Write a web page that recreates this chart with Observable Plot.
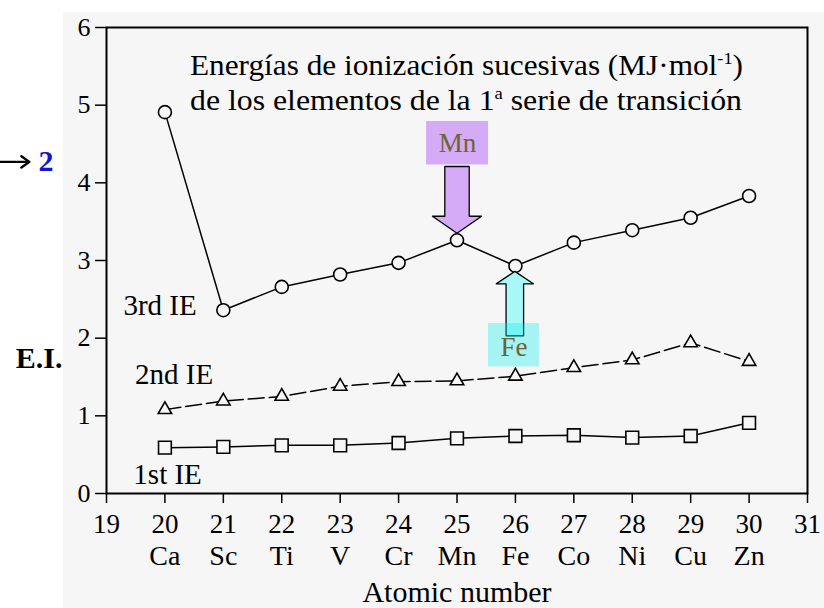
<!DOCTYPE html>
<html>
<head>
<meta charset="utf-8">
<script src="https://cdn.jsdelivr.net/npm/d3@7"></script>
<script src="https://cdn.jsdelivr.net/npm/@observablehq/plot@0.6"></script>
<style>
  html, body { margin: 0; padding: 0; background: white; }
  #wrap { position: relative; width: 824px; height: 608px; overflow: hidden; }
  #scan { position: absolute; left: 63px; top: 12px; right: 0; bottom: 0; background: #f6f6f6; }
  #chart { position: absolute; left: 0; top: 0; }
</style>
</head>
<body>
<div id="wrap"><div id="scan"></div><div id="chart"></div></div>
<script>
// ---- data ----
const atomicNumbers = [20, 21, 22, 23, 24, 25, 26, 27, 28, 29, 30];
const elements = ["Ca", "Sc", "Ti", "V", "Cr", "Mn", "Fe", "Co", "Ni", "Cu", "Zn"];
const ie1 = [0.59, 0.60, 0.62, 0.62, 0.65, 0.71, 0.74, 0.75, 0.72, 0.74, 0.91];
const ie2 = [1.08, 1.19, 1.25, 1.38, 1.44, 1.45, 1.51, 1.62, 1.72, 1.94, 1.70];
const ie3 = [4.91, 2.36, 2.66, 2.82, 2.97, 3.26, 2.93, 3.23, 3.39, 3.55, 3.83];
const xTicks = [19, 20, 21, 22, 23, 24, 25, 26, 27, 28, 29, 30, 31];
const yTicks = [0, 1, 2, 3, 4, 5, 6];
const seriesLabels = [
  {label: "3rd IE", x: 19.29, y: 2.42},
  {label: "2nd IE", x: 19.49, y: 1.53},
  {label: "1st IE", x: 19.46, y: 0.245}
];
const titleLines = ["Energías de ionización sucesivas (MJ·mol", "de los elementos de la 1", " serie de transición"];
// annotation arrows (data units)
const mnArrow = {x: 25.0, tail: 4.21, headBase: 3.57, tip: 3.35, shaft: 0.209, head: 0.42};
const feArrow = {x: 25.99, tail: 2.03, headBase: 2.70, tip: 2.86, shaft: 0.15, head: 0.317};
const mnBox = {label: "Mn", x1: 24.48, x2: 25.54, y1: 4.23, y2: 4.79};
const feBox = {label: "Fe", x1: 25.54, x2: 26.41, y1: 1.63, y2: 2.19};
const pointer = {x1: 17.18, x2: 17.68, y: 4.27};

const rows = atomicNumbers.map((z, i) => ({z, el: elements[i], ie1: ie1[i], ie2: ie2[i], ie3: ie3[i]}));

function fatArrow(a) {
  return [
    {x: a.x - a.shaft, y: a.tail},
    {x: a.x + a.shaft, y: a.tail},
    {x: a.x + a.shaft, y: a.headBase},
    {x: a.x + a.head, y: a.headBase},
    {x: a.x, y: a.tip},
    {x: a.x - a.head, y: a.headBase},
    {x: a.x - a.shaft, y: a.headBase},
    {x: a.x - a.shaft, y: a.tail}
  ];
}

const bg = "#f6f6f6";
const serif = "'Liberation Serif', 'Times New Roman', serif";

const svg = Plot.plot({
  width: 824,
  height: 608,
  marginLeft: 106,
  marginRight: 17,
  marginTop: 27,
  marginBottom: 115,
  x: {domain: [19, 31]},
  y: {domain: [0, 6]},
  style: {background: "transparent", fontFamily: serif, fontSize: "27px", color: "black", overflow: "visible"},
  marks: [
    Plot.axisY({ticks: yTicks, tickSize: 11, tickPadding: 5, tickFormat: d => String(d), label: null, strokeWidth: 1.5, fontSize: 26}),
    Plot.axisX({ticks: xTicks, tickSize: 10, tickPadding: 10, tickFormat: d => String(d), label: null, strokeWidth: 1.5, fontSize: 27}),
    Plot.axisX({ticks: atomicNumbers, tickSize: 0, tickPadding: 52, tickFormat: d => elements[atomicNumbers.indexOf(d)], label: null, fontSize: 28}),
    Plot.text(["Atomic number"], {frameAnchor: "bottom", dy: 108, fontSize: 30}),
    Plot.frame({stroke: "black", strokeWidth: 2}),
    // series lines
    Plot.line(rows, {x: "z", y: "ie3", stroke: "black", strokeWidth: 1.5}),
    Plot.line(rows, {x: "z", y: "ie2", stroke: "black", strokeWidth: 1.5, strokeDasharray: "16,5"}),
    Plot.line(rows, {x: "z", y: "ie1", stroke: "black", strokeWidth: 1.5}),
    Plot.dot(rows, {x: "z", y: "ie3", symbol: "circle", r: 6.5, stroke: "black", fill: bg, strokeWidth: 1.6}),
    Plot.dot(rows, {x: "z", y: "ie2", symbol: "triangle", r: 5, stroke: "black", fill: bg, strokeWidth: 1.6}),
    Plot.dot(rows, {x: "z", y: "ie1", symbol: "square", r: 7.2, stroke: "black", fill: bg, strokeWidth: 1.6}),
    Plot.text(seriesLabels, {x: "x", y: "y", text: "label", textAnchor: "start", fontSize: 29}),
    // annotations
    Plot.rect([mnBox], {x1: "x1", x2: "x2", y1: "y1", y2: "y2", fill: "#d5aaf6"}),
    Plot.text([mnBox], {x: d => (d.x1 + d.x2) / 2, y: d => (d.y1 + d.y2) / 2, text: "label", fill: "#6b6433", fontSize: 27}),
    Plot.line(fatArrow(mnArrow), {x: "x", y: "y", fill: "#d5aaf6", stroke: "black", strokeWidth: 1.3}),
    Plot.line(fatArrow(feArrow), {x: "x", y: "y", fill: "#a8f8f8", stroke: "black", strokeWidth: 1.3}),
    Plot.rect([feBox], {x1: "x1", x2: "x2", y1: "y1", y2: "y2", fill: "#00eeee", fillOpacity: 0.33}),
    Plot.text([feBox], {x: d => (d.x1 + d.x2) / 2, y: d => (d.y1 + d.y2) / 2 - 0.03, text: "label", fill: "#6b6433", fontSize: 27}),
    // outside labels
    Plot.text(["E.I."], {x: 19, y: 1.74, dx: -44, textAnchor: "end", fontWeight: "bold", fontSize: 30}),
    Plot.text(["2"], {x: 19, y: 4.27, dx: -53, textAnchor: "end", fontWeight: "bold", fontSize: 30, fill: "#1414d2"}),
    Plot.arrow([pointer], {x1: "x1", x2: "x2", y1: "y", y2: "y", stroke: "black", strokeWidth: 2.4, headLength: 11, headAngle: 70})
  ]
});

// title with superscripts
const s = d3.select(svg);
const t1 = s.append("text").attr("x", 190).attr("y", 75).attr("font-size", 29).attr("font-family", serif)
  .attr("text-anchor", "start").attr("fill", "black").attr("textLength", 553).attr("lengthAdjust", "spacingAndGlyphs");
t1.append("tspan").text(titleLines[0]);
t1.append("tspan").attr("dy", -11).attr("font-size", 17).text("-1");
t1.append("tspan").attr("dy", 11).text(")");
const t2 = s.append("text").attr("x", 190).attr("y", 110).attr("font-size", 29).attr("font-family", serif)
  .attr("text-anchor", "start").attr("fill", "black").attr("textLength", 552).attr("lengthAdjust", "spacingAndGlyphs");
t2.append("tspan").text(titleLines[1]);
t2.append("tspan").attr("dy", -11).attr("font-size", 17).text("a");
t2.append("tspan").attr("dy", 11).text(titleLines[2]);

document.getElementById("chart").appendChild(svg);
</script>
</body>
</html>
